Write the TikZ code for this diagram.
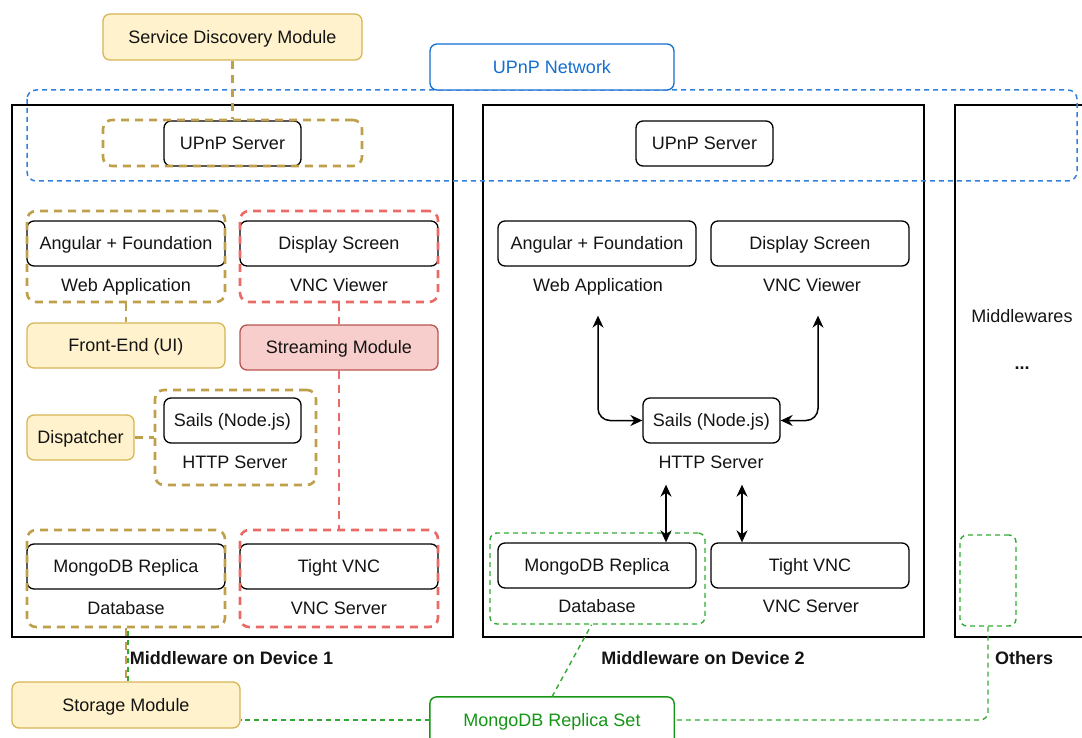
\documentclass[tikz,border=0pt]{standalone}
\usepackage{fontspec}
\setmainfont{Liberation Sans}
\usetikzlibrary{arrows.meta}
\definecolor{goldd}{RGB}{191,160,74}
\definecolor{yfill}{RGB}{255,242,204}
\definecolor{ydraw}{RGB}{214,182,86}
\definecolor{redd}{RGB}{234,107,102}
\definecolor{pfill}{RGB}{248,206,204}
\definecolor{pdraw}{RGB}{184,84,80}
\definecolor{blued}{RGB}{50,130,220}
\definecolor{bluet}{RGB}{20,110,210}
\definecolor{greend}{RGB}{50,170,50}
\definecolor{greent}{RGB}{20,150,20}
\definecolor{txt}{RGB}{20,20,20}
\tikzset{
  every node/.style={text height=12.9pt,text depth=0pt,text=txt},
  blackbox/.style={draw=black,fill=white,line width=1.3pt,rounded corners=7pt,inner sep=0pt},
  ybox/.style={draw=ydraw,fill=yfill,line width=1.3pt,rounded corners=7pt,inner sep=0pt},
  pbox/.style={draw=pdraw,fill=pfill,line width=1.3pt,rounded corners=7pt,inner sep=0pt},
  goldgrp/.style={draw=goldd,line width=2.6pt,dash pattern=on 8pt off 6pt,rounded corners=9pt,inner sep=0pt},
  redgrp/.style={draw=redd,line width=2.6pt,dash pattern=on 8pt off 6pt,rounded corners=9pt,inner sep=0pt},
  greengrp/.style={draw=greend,line width=1.4pt,dash pattern=on 5pt off 4pt,rounded corners=7pt,inner sep=0pt},
  goldline/.style={draw=goldd,line width=2.6pt,dash pattern=on 8pt off 6pt},
  redline/.style={draw=redd,line width=2.6pt,dash pattern=on 8pt off 6pt},
  greenline/.style={draw=greend,line width=1.4pt,dash pattern=on 5pt off 4pt},
  dblarrow/.style={draw=black,line width=1.5pt,{Stealth[length=12pt,width=11pt]}-{Stealth[length=12pt,width=11pt]}},
  lbl/.style={inner sep=2pt},
  blbl/.style={inner sep=2pt,font=\fontsize{18}{21}\selectfont\bfseries},
  devbox/.style={draw=black,line width=1.3pt}
}
\begin{document}
\begin{tikzpicture}[x=1pt,y=-1pt,font=\fontsize{18}{21}\selectfont]
\useasboundingbox (0,0) rectangle (1082,738);

% device frames
\draw[devbox] (12,105) rectangle (453,637);
\draw[devbox] (483,105) rectangle (924,637);
\draw[devbox] (1082,105) -- (955,105) -- (955,637) -- (1082,637);

% UPnP network area
\draw[draw=blued,line width=1.5pt,dash pattern=on 5pt off 4pt,rounded corners=9pt] (27,90) rectangle (1077,181);

% top modules
\node[ybox,minimum width=259pt,minimum height=46pt] (sdm) at (232.5,37) {Service Discovery Module};
\node[draw=bluet,fill=white,line width=1.3pt,rounded corners=7pt,inner sep=0pt,minimum width=244pt,minimum height=46pt,text=bluet] (upnpnet) at (552,67) {UPnP Network};

% ---- Device 1 ----
\node[blackbox,minimum width=137pt,minimum height=45pt] (up1) at (232.5,143.5) {UPnP Server};
\node[goldgrp,minimum width=259pt,minimum height=46pt] (up1grp) at (232.5,143) {};

\node[blackbox,minimum width=198pt,minimum height=45pt] (ang1) at (126,243.5) {Angular + Foundation};
\node[lbl] (wa1) at (126,285) {Web Application};
\node[goldgrp,minimum width=198pt,minimum height=91pt] (wa1grp) at (126,256.5) {};

\node[blackbox,minimum width=198pt,minimum height=45pt] (ds1) at (339,243.5) {Display Screen};
\node[lbl] (vv1) at (339,285) {VNC Viewer};
\node[redgrp,minimum width=198pt,minimum height=91pt] (vv1grp) at (339,256.5) {};

\node[ybox,minimum width=198pt,minimum height=45pt] (fe) at (126,345.5) {Front-End (UI)};
\node[pbox,minimum width=198pt,minimum height=45pt] (sm) at (339,347.5) {Streaming Module};

\node[ybox,minimum width=107pt,minimum height=45pt] (disp) at (80.5,437.5) {Dispatcher};
\node[blackbox,minimum width=137pt,minimum height=45pt] (sails1) at (232.5,420.5) {Sails (Node.js)};
\node[lbl] (hs1) at (235,462) {HTTP Server};
\node[goldgrp,minimum width=161pt,minimum height=95pt] (hs1grp) at (235.5,437.5) {};

\node[blackbox,minimum width=198pt,minimum height=45pt] (mongo1) at (126,566.5) {MongoDB Replica};
\node[lbl] (db1) at (126,608) {Database};
\node[goldgrp,minimum width=198pt,minimum height=97pt] (db1grp) at (126,578.5) {};

\node[blackbox,minimum width=198pt,minimum height=45pt] (tv1) at (339,566.5) {Tight VNC};
\node[lbl] (vs1) at (339,608) {VNC Server};
\node[redgrp,minimum width=198pt,minimum height=97pt] (vs1grp) at (339,578.5) {};

\node[blbl] (dev1lbl) at (231.5,658) {Middleware on Device 1};
\node[ybox,minimum width=228pt,minimum height=46pt] (storage) at (126,705) {Storage Module};

% ---- Device 2 ----
\node[blackbox,minimum width=137pt,minimum height=45pt] (up2) at (704.5,143.5) {UPnP Server};
\node[blackbox,minimum width=198pt,minimum height=45pt] (ang2) at (597,243.5) {Angular + Foundation};
\node[lbl] (wa2) at (598,285) {Web Application};
\node[blackbox,minimum width=198pt,minimum height=45pt] (ds2) at (810,243.5) {Display Screen};
\node[lbl] (vv2) at (812,285) {VNC Viewer};
\node[blackbox,minimum width=137pt,minimum height=45pt] (sails2) at (711.5,420.5) {Sails (Node.js)};
\node[lbl] (hs2) at (711,462) {HTTP Server};
\node[blackbox,minimum width=198pt,minimum height=45pt] (mongo2) at (597,565.5) {MongoDB Replica};
\node[lbl] (db2) at (597,606) {Database};
\node[blackbox,minimum width=198pt,minimum height=45pt] (tv2) at (810,565.5) {Tight VNC};
\node[lbl] (vs2) at (811,606) {VNC Server};
\node[greengrp,minimum width=215pt,minimum height=91pt] (db2grp) at (597.5,578.5) {};
\node[blbl] (dev2lbl) at (703,658) {Middleware on Device 2};

% ---- Device 3 ----
\node[lbl] (mids) at (1022,316) {Middlewares};
\node[lbl,font=\fontsize{18}{21}\selectfont\bfseries] (dots) at (1022,363) {...};
\node[greengrp,minimum width=56pt,minimum height=91pt] (othgrp) at (988,580.5) {};
\node[blbl] (othlbl) at (1024,658) {Others};

% replica set
\node[inner sep=0pt,minimum width=244pt,minimum height=46pt,text=greent] (mrs) at (552,720) {MongoDB Replica Set};
\draw[draw=greent,line width=1.4pt,rounded corners=7pt] (mrs.south west) -- (mrs.north west) -- (mrs.north east) -- (mrs.south east);

% ---- connectors ----
\draw[goldline] (sdm.south) -- (up1grp.north);
\draw[goldline] (wa1grp.south) -- (fe.north);
\draw[redline] (vv1grp.south) -- (sm.north);
\draw[redline] (sm.south) -- (vs1grp.north);
\draw[goldline] (disp.east) -- (hs1grp.west);
\draw[greenline] ([xshift=2pt]storage.north) -- ([xshift=2pt]storage.north |- db1grp.south);
\draw[goldline] (db1grp.south) -- (storage.north);

\draw[dblarrow,rounded corners=12pt,shorten <=22pt] (wa2.south) |- (sails2.west);
\draw[dblarrow,rounded corners=12pt,shorten <=22pt] ([xshift=6pt]vv2.south) |- (sails2.east);
\draw[dblarrow,shorten <=14pt] ([xshift=-45pt]hs2.south) -- ([xshift=-45pt]hs2.south |- mongo2.north);
\draw[dblarrow,shorten <=14pt] ([xshift=31pt]hs2.south) -- ([xshift=31pt]hs2.south |- tv2.north);

\draw[greenline] (mrs.west) -- (mrs.west -| storage.east);
\draw[greenline] (mrs.north) -- ([xshift=-6pt]db2grp.south);
\draw[greenline,rounded corners=8pt] (othgrp.south) |- (mrs.east);
\end{tikzpicture}
\end{document}
